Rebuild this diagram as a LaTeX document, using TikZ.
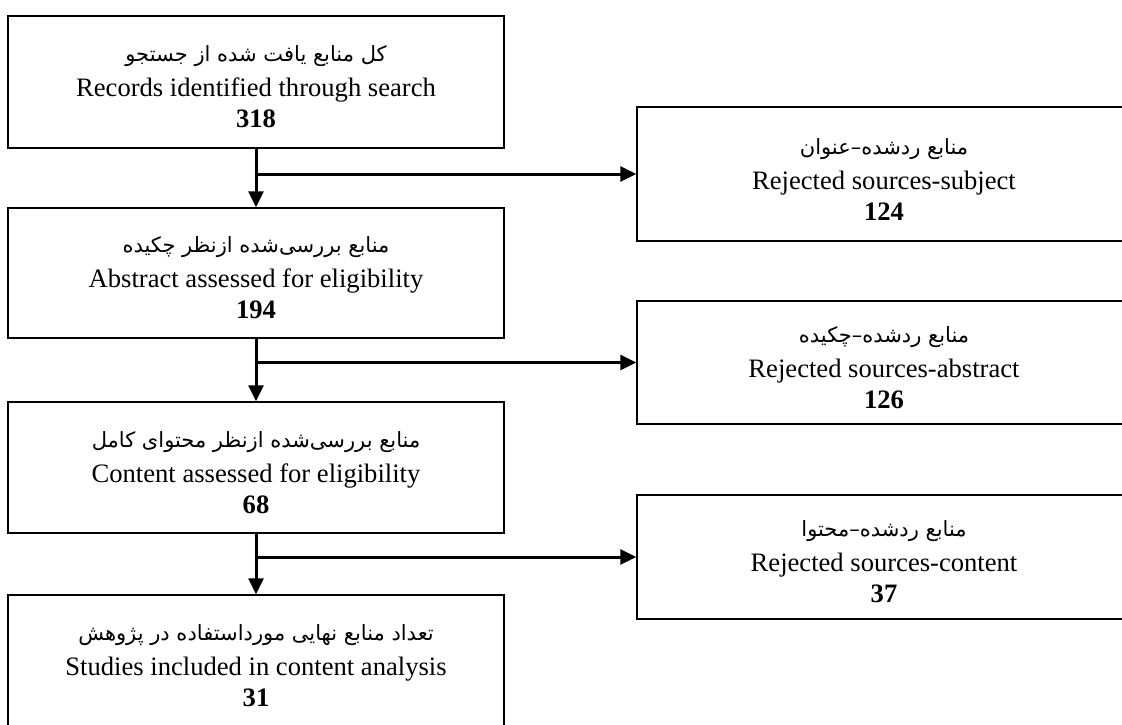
\documentclass[tikz,border=0pt]{standalone}
\usepackage{fontspec}
\setmainfont{Liberation Serif}
\newfontfamily\arabicfont[Script=Arabic]{DejaVu Sans}
\TeXXeTstate=1
\usetikzlibrary{arrows.meta,positioning}
\newcommand{\myunit}{0.5pt}
\newcommand{\fatxt}[1]{{\arabicfont\fontsize{10.5}{15.5}\selectfont\rule{0pt}{13pt}\beginR #1\endR}\\[2pt]}
\tikzset{
    boxsty/.style={draw,line width=0.7pt,rectangle,align=center,inner sep=0pt,minimum width=496*\myunit,font=\fontsize{13.3}{15.5}\selectfont},
    rejsty/.style={boxsty,minimum width=494*\myunit},
    arrsty/.style={->,line width=1.5pt},
}

\begin{document}
\begin{tikzpicture}[x=\myunit,y=-\myunit,>={Triangle[length=8pt,width=7.5pt]}]
  \useasboundingbox (0,0) rectangle (1122,724);
  \clip (0,0) rectangle (1122,724);

  % main column
  \node[boxsty,minimum height=132*\myunit] (found) at (256,82)
    {\fatxt{کل منابع یافت شده از جستجو}Records identified through search\\\textbf{318}};
  \node[boxsty,minimum height=130*\myunit] (abstr) at (256,273)
    {\fatxt{منابع بررسی‌شده ازنظر چکیده}Abstract assessed for eligibility\\\textbf{194}};
  \node[boxsty,minimum height=131*\myunit] (content) at (256,467.5)
    {\fatxt{منابع بررسی‌شده ازنظر محتوای کامل}Content assessed for eligibility\\\textbf{68}};
  \node[boxsty,minimum height=131*\myunit] (incl) at (256,660.5)
    {\fatxt{تعداد منابع نهایی مورداستفاده در پژوهش}Studies included in content analysis\\\textbf{31}};

  % rejected sources
  \node[rejsty,minimum height=134*\myunit] (rejsubj) at (884,174)
    {\fatxt{منابع ردشده–عنوان}Rejected sources-subject\\\textbf{124}};
  \node[rejsty,minimum height=123*\myunit] (rejabs) at (884,362.5)
    {\fatxt{منابع ردشده–چکیده}Rejected sources-abstract\\\textbf{126}};
  \node[rejsty,minimum height=124*\myunit] (rejcont) at (884,557)
    {\fatxt{منابع ردشده–محتوا}Rejected sources-content\\\textbf{37}};

  \draw[arrsty] (found) -- (abstr);
  \draw[arrsty] (abstr) -- (content);
  \draw[arrsty] (content) -- (incl);
  \draw[arrsty] (found.south |- rejsubj.west) -- (rejsubj.west);
  \draw[arrsty] (abstr.south |- rejabs.west) -- (rejabs.west);
  \draw[arrsty] (content.south |- rejcont.west) -- (rejcont.west);
\end{tikzpicture}
\end{document}
